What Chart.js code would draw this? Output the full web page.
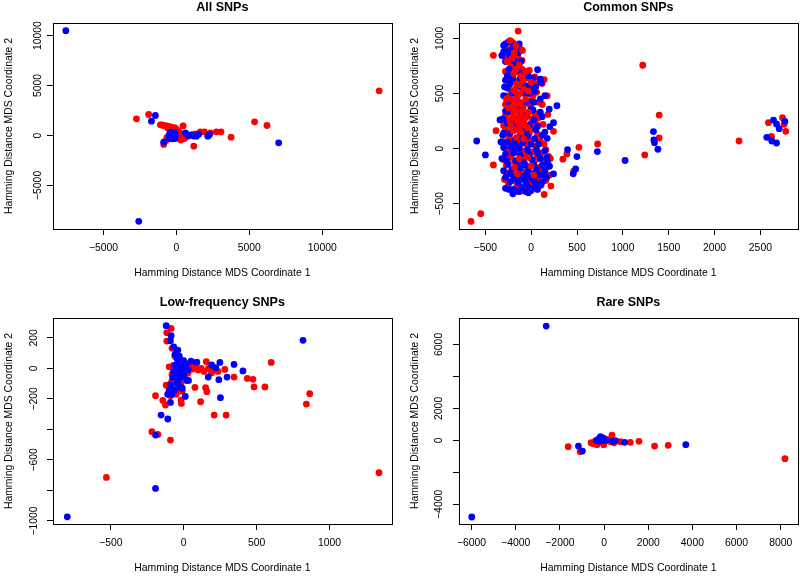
<!DOCTYPE html>
<html>
<head>
<meta charset="utf-8">
<script src="https://cdn.jsdelivr.net/npm/chart.js@4.4.0/dist/chart.umd.min.js"></script>
<style>
  html, body { margin: 0; padding: 0; background: #fff; overflow: hidden; }
  #wrap { position: relative; width: 800px; height: 576px; overflow: hidden; }
  #wrap canvas { position: absolute; }
</style>
</head>
<body>
<div id="wrap">
  <canvas id="pAll" width="400" height="288" style="left:0;top:0"></canvas>
  <canvas id="pCommon" width="400" height="288" style="left:406px;top:0"></canvas>
  <canvas id="pLow" width="400" height="288" style="left:0;top:295px"></canvas>
  <canvas id="pRare" width="400" height="288" style="left:406px;top:295px"></canvas>
</div>
<script>
const FONT = '"Liberation Sans", Arial, Helvetica, sans-serif';
const RED = '#ff0000';
const BLUE = '#0000ff';

const xTitle = 'Hamming Distance MDS Coordinate 1';
const yTitle = 'Hamming Distance MDS Coordinate 2';

// ---- All SNPs ----
const allXTicks = [-5000, 0, 5000, 10000];
const allYTicks = [-5000, 0, 5000, 10000];
const allYLabels = [-5000, 0, 5000, 10000];
const allRed = [
  [13900, 4470], [-2740, 1670], [-1900, 2100], [-1100, 1070], [-870, -900], [460, 970], [1190, -1070],
  [1640, 370], [1920, 370], [2330, 270], [2740, 370], [3060, 370], [3750, -170], [5360, 1370], [6210, 1000],
  [-1000, 1050], [-850, 1000], [-700, 950], [-550, 900], [-400, 850], [-250, 800], [-100, 750], [-600, 750],
  [-300, 700], [0, 600], [150, 450], [250, 200], [350, 0], [450, -100], [550, -300], [650, -150],
  [850, -50], [1050, 60], [-700, -500], [-650, -200], [200, -300], [300, -450], [700, 100], [500, -170],
  [1300, 150], [100, -100]
];
const allBlue = [
  [-7580, 10500], [-2580, -8600], [-1440, 2000], [-1710, 1430], [-870, -670], [620, 270], [1030, 60],
  [1370, -70], [1530, 130], [2150, -70], [2270, 100], [7010, -730], [800, 0], [1200, -50],
  [-300, 50], [-450, 250], [-150, -200], [-100, 150], [-470, -50], [-300, 320], [-200, -320], [-450, -300],
  [-80, -100], [-350, -250], [-90, 80], [-460, 100], [-250, 250], [-400, 0], [-150, 300], [-300, -330],
  [-100, -300], [-470, -200], [-380, 120], [-220, -80], [-320, -120], [-180, 80], [-420, -150],
  [-260, 150], [-120, 0], [-200, 0]
];

// ---- Common SNPs ----
const commonXTicks = [-500, 0, 500, 1000, 1500, 2000, 2500];
const commonYTicks = [-500, 0, 500, 1000];
const commonYLabels = [-500, 0, 500, 1000];
const commonRed = [
  [-656, -660], [-550, -590], [-412, 846], [-383, 163], [-412, -148], [-142, 1066], [346, -96], [390, -48],
  [463, -205], [521, 12], [725, 42], [1217, 756], [1239, -57], [1396, 304], [1396, 96], [2267, 69],
  [2588, 235], [2621, 111], [2741, 280], [2759, 220], [2777, 157], [244, 157], [182, 310], [142, -416],
  [215, -340], [142, 626], [175, 479],
  [-200, 960], [-120, 905], [-250, 900], [-150, 850], [-300, 840], [-100, 800], [-175, 780],
  [-220, 740], [-20, 710], [40, 650], [-250, 640], [-170, 610], [60, 590], [120, 590],
  [-230, 540], [20, 480], [60, 510], [-250, 480], [10, 440], [80, 420],
  [-280, 400], [-20, 400], [120, 400], [40, 320], [-280, 300], [10, 270], [80, 280], [-250, 260],
  [0, 230], [60, 220], [130, 220], [-300, 210],
  [-280, 170], [-20, 140], [70, 130], [-240, 110], [10, 80], [100, 70], [-290, 60], [-210, 50],
  [-120, 40], [-40, 30], [50, 20], [140, 40], [-260, 0], [-170, -10], [-80, -20], [20, -30], [110, -40],
  [190, -70],
  [-300, -100], [-220, -80], [50, -100], [140, -110], [210, -90], [-270, -150], [-90, -140], [90, -170],
  [180, -160], [-240, -220], [-60, -210], [120, -220], [200, -240], [-290, -280], [-200, -290], [-110, -270],
  [-20, -300], [70, -280], [160, -290], [-250, -330], [-160, -350], [-70, -360], [20, -340], [110, -330],
  [-120, -390], [-30, -380],
  [-60, 120], [-130, 70], [-50, 60], [30, 180], [-260, 130], [-190, 20], [-100, -50], [-10, -40],
  [70, -60], [160, -10], [-250, -40], [-150, -310], [-40, -330], [60, -350], [-200, -380], [-270, -240],
  [-130, -200], [-40, -250], [90, -210], [-180, -120], [-90, -60], [30, -120], [-160, 560], [-100, 720],
  [-40, 640], [-280, 700], [-200, 760], [-140, 820], [-240, 860], [-210, 80]
];
// red samples plotted after the blue ones
const commonRedTop = [
  [-250, 370], [-170, 350], [-100, 340], [-30, 330], [-200, 290], [-120, 300], [-60, 280], [-150, 250],
  [-80, 240], [-220, 200], [-130, 200], [-40, 190], [-200, 160], [-110, 150], [-160, 100], [-80, 90],
  [-210, 380], [-150, 400], [-90, 370], [-190, 330], [-140, 280], [-230, 240], [-100, 210], [-170, 170],
  [-180, 520], [-120, 500], [-150, 470], [-60, 450], [-200, 440], [-120, 420], [-270, 450], [-130, -90],
  [-40, -80], [-180, -170], [0, -160], [-150, -230], [30, -240],
  [-230, 980], [-165, 930], [-95, 890], [-185, 870], [-210, 820], [-260, 790], [-130, 760], [-160, 720],
  [-60, 700], [-190, 680], [-110, 660], [-90, 620], [0, 600], [-130, 580], [-80, 540], [-30, 520]
];
const commonBlue = [
  [-594, 69], [-499, -57], [397, -9], [485, -184], [499, -72], [459, -229], [722, -27], [1024, -108],
  [1334, 154], [1338, 78], [1345, 54], [1382, -6], [2570, 102], [2643, 259], [2676, 223], [2705, 181],
  [2767, 247], [2624, 69], [2676, 51], [281, 389], [197, 358], [244, 235], [204, 199], [175, 93], [244, -229],
  [-280, 950], [-250, 965], [-225, 975], [-130, 950], [-300, 935], [-195, 930], [-160, 900], [-260, 880],
  [-140, 870], [-320, 845], [-235, 840], [-280, 790], [-110, 790], [-190, 800],
  [-240, 720], [-150, 700], [-80, 690], [70, 715], [-260, 660], [-30, 660], [20, 640], [100, 630],
  [-280, 620], [-200, 640], [-100, 600], [110, 600], [-60, 570], [50, 560], [-230, 590],
  [-260, 550], [-110, 560], [-10, 555], [-200, 500], [-60, 490], [40, 520], [150, 480], [-300, 480],
  [-160, 440], [-40, 430], [30, 420], [-230, 410], [-90, 400], [100, 450], [0, 360], [-130, 370],
  [-280, 340], [-230, 330], [-120, 330], [-50, 300], [20, 350], [100, 330], [-310, 270], [-170, 270],
  [-90, 260], [30, 260], [120, 290], [-260, 230], [-190, 220], [-20, 210], [70, 200], [-340, 260],
  [-300, 140], [-150, 180], [-60, 160], [50, 170],
  [-310, 120], [-230, 140], [-130, 110], [-40, 110], [40, 90], [120, 120], [-260, 60], [-180, 70],
  [-90, 50], [0, 40], [80, 40], [-300, 10], [-220, 20], [-130, 0], [-40, -10], [60, -10], [150, -20],
  [-280, -50], [-190, -40],
  [-270, -110], [-170, -110], [-80, -120], [10, -100], [100, -90], [180, -120], [-300, -200], [-210, -190],
  [-120, -180], [-30, -200], [60, -190], [150, -200], [-280, -260], [-190, -250], [-100, -250], [-10, -260],
  [80, -240], [170, -260], [-230, -300], [-140, -310], [-50, -320], [40, -300], [120, -300], [-280, -360],
  [-190, -370], [-100, -350], [-10, -360], [70, -370], [-200, -410], [-60, -390], [0, -380],
  [-250, -140], [-150, -150], [-60, -150], [30, -150], [120, -150], [-230, -230], [-140, -240], [-50, -230],
  [40, -220], [130, -240], [-160, -280], [-70, -290], [20, -280], [100, -330], [-240, -370], [-140, -390],
  [-30, -400], [40, -350], [-120, -60], [-20, -60], [70, -40], [-200, -10], [-330, 60], [-320, -90],
  [-240, 400], [-290, 560], [-220, 680], [-160, 760], [-300, 880], [-210, 900], [-120, 640], [-20, 500],
  [-160, 20], [-70, 200], [150, 150], [170, -80], [200, -160]
];

// ---- Low-frequency SNPs ----
const lowXTicks = [-500, 0, 500, 1000];
const lowYTicks = [-1000, -800, -600, -400, -200, 0, 200];
const lowYLabels = [-1000, -600, -200, 0, 200];
const lowRed = [
  [1339, -684], [-530, -715], [-218, -415], [-177, -433], [-91, -470], [-193, -179], [-143, -210], [-125, -240],
  [-18, -208], [-16, -230], [116, -219], [77, -125], [150, -127], [159, -153], [209, -306], [291, -306],
  [282, -7], [345, -57], [436, -66], [475, -72], [482, -122], [557, -122], [600, 39], [841, -234], [864, -166],
  [155, 44], [-86, 262], [-116, 234], [-116, 179], [-80, 131],
  [-60, 80], [-40, 60], [-20, 40], [0, 20], [20, 10], [40, 0], [60, -5], [80, 10], [100, -10], [120, 0],
  [140, -20], [170, 0], [190, -30], [210, -10], [235, -20], [-70, 20], [-80, -40], [-60, -80], [-90, -100],
  [-100, -130], [-50, -140], [-120, -110], [-20, -100], [10, -60], [30, -30], [-100, 10], [-80, -80],
  [60, 30], [90, 40], [-10, -150], [-50, -170], [-90, -180]
];
const lowBlue = [
  [-798, -973], [-193, -787], [818, 184], [-193, -437], [-155, -306], [-109, -332], [-120, 280], [-86, 214],
  [-91, 181], [-68, 140], [-91, -223], [11, -184], [33, -79], [168, -57], [241, -74], [252, -192], [297, -57],
  [345, 26], [406, -17], [248, 39], [191, 22], [220, 4], [89, 39], [50, 48],
  [-40, 120], [-50, 100], [-30, 80], [-45, 60], [-35, 40], [-25, 20], [-40, 0], [-30, -20], [-50, -40],
  [-20, -60], [-35, -80], [-45, -100], [-30, -120], [-60, -140], [-10, -10], [10, 10], [0, 50], [-60, 20],
  [-70, -20], [-75, -60], [-90, -110], [-100, -150], [-80, -170], [-110, -170], [-60, 90], [20, 30],
  [30, -10], [0, -40], [20, -80], [-10, -130]
];

// ---- Rare SNPs ----
const rareXTicks = [-6000, -4000, -2000, 0, 2000, 4000, 6000, 8000];
const rareYTicks = [-4000, -2000, 0, 2000, 4000, 6000];
const rareYLabels = [-4000, 0, 2000, 6000];
const rareRed = [
  [8190, -1146], [-1625, -396], [-1084, -708], [-587, -146], [-540, -187], [-316, -270], [-15, -270],
  [361, 333], [737, -83], [1189, -125], [1580, -62], [2288, -354], [2905, -312], [60, 83], [-400, -50],
  [-200, -100], [100, -20], [300, -80], [450, -150], [-100, 150], [200, 50], [-450, -220]
];
const rareBlue = [
  [-2620, 7146], [-5990, -4790], [-1160, -354], [-980, -667], [3702, -270], [-165, 229], [-346, 0],
  [512, -21], [933, -125], [-250, 80], [-100, 50], [0, 0], [-200, -50], [100, 20], [400, -60], [-50, 150]
];

function fmt(v) {
  return v < 0 ? '\u2212' + Math.abs(v) : String(v);
}

// box, title and rotated y labels, R style
const rPlot = {
  id: 'rPlot',
  afterDraw(chart, args, opts) {
    const { ctx, chartArea: a, scales } = chart;
    ctx.save();
    ctx.strokeStyle = '#000';
    ctx.lineWidth = 1;
    ctx.strokeRect(Math.round(a.left) + 0.5, Math.round(a.top) + 0.5,
      Math.round(a.right - a.left), Math.round(a.bottom - a.top));
    ctx.fillStyle = '#000';
    ctx.textAlign = 'center';
    ctx.textBaseline = 'middle';
    ctx.font = 'bold 12.5px ' + FONT;
    ctx.fillText(opts.title, (a.left + a.right) / 2, 8);
    ctx.font = '10.4px ' + FONT;
    opts.yLabels.forEach(v => {
      ctx.save();
      ctx.translate(a.left - opts.yGap, scales.y.getPixelForValue(v));
      ctx.rotate(-Math.PI / 2);
      ctx.fillText(fmt(v), 0, 0);
      ctx.restore();
    });
    ctx.restore();
  }
};

function axis(min, max, ticks, text, isX) {
  return {
    type: 'linear', min, max,
    afterBuildTicks: s => { s.ticks = ticks.map(v => ({ value: v })); },
    afterFit: s => { if (isX) s.height = 59; else s.width = 53; },
    grid: { drawOnChartArea: false, drawTicks: true, tickLength: 6, color: '#000', lineWidth: 1 },
    border: { display: false },
    ticks: {
      display: isX, color: '#000', font: { family: FONT, size: 10.4 }, padding: 7,
      maxRotation: 0, autoSkip: false, callback: v => fmt(v)
    },
    title: {
      display: true, text, color: '#000', font: { family: FONT, size: 10.4 },
      padding: isX ? { top: 0, bottom: 9 } : { top: 2.8, bottom: 0 }
    }
  };
}

// layers go bottom to top; Chart.js paints lower `order` values last
function drawPanel(id, title, layers, xr, yr, xTicks, yTicks, yLabels, yGap) {
  const ctx = document.getElementById(id).getContext('2d');
  return new Chart(ctx, {
    type: 'scatter',
    data: {
      datasets: layers.map(([pts, color], i) => ({
        data: pts.map(([x, y]) => ({ x, y })),
        order: layers.length - 1 - i,
        backgroundColor: color, borderWidth: 0, pointRadius: 3.4
      }))
    },
    options: {
      responsive: false,
      animation: false,
      events: [],
      layout: { padding: { top: 23, right: 8.3, bottom: 0, left: 0 } },
      plugins: {
        legend: { display: false },
        tooltip: { enabled: false },
        rPlot: { title, yLabels, yGap }
      },
      scales: {
        x: axis(xr[0], xr[1], xTicks, xTitle, true),
        y: axis(yr[0], yr[1], yTicks, yTitle, false)
      }
    },
    plugins: [rPlot]
  });
}

drawPanel('pAll', 'All SNPs', [[allRed, RED], [allBlue, BLUE]],
  [-8460, 14760], [-9364, 11264], allXTicks, allYTicks, allYLabels, 15);
drawPanel('pCommon', 'Common SNPs', [[commonRed, RED], [commonBlue, BLUE], [commonRedTop, RED]],
  [-787, 2907], [-729, 1139], commonXTicks, commonYTicks, commonYLabels, 19);
drawPanel('pLow', 'Low-frequency SNPs', [[lowRed, RED], [lowBlue, BLUE]],
  [-896, 1426], [-1020, 330], lowXTicks, lowYTicks, lowYLabels, 18.5);
drawPanel('pRare', 'Rare SNPs', [[rareRed, RED], [rareBlue, BLUE]],
  [-6568, 8768], [-5228, 7650], rareXTicks, rareYTicks, rareYLabels, 20);
</script>
</body>
</html>
